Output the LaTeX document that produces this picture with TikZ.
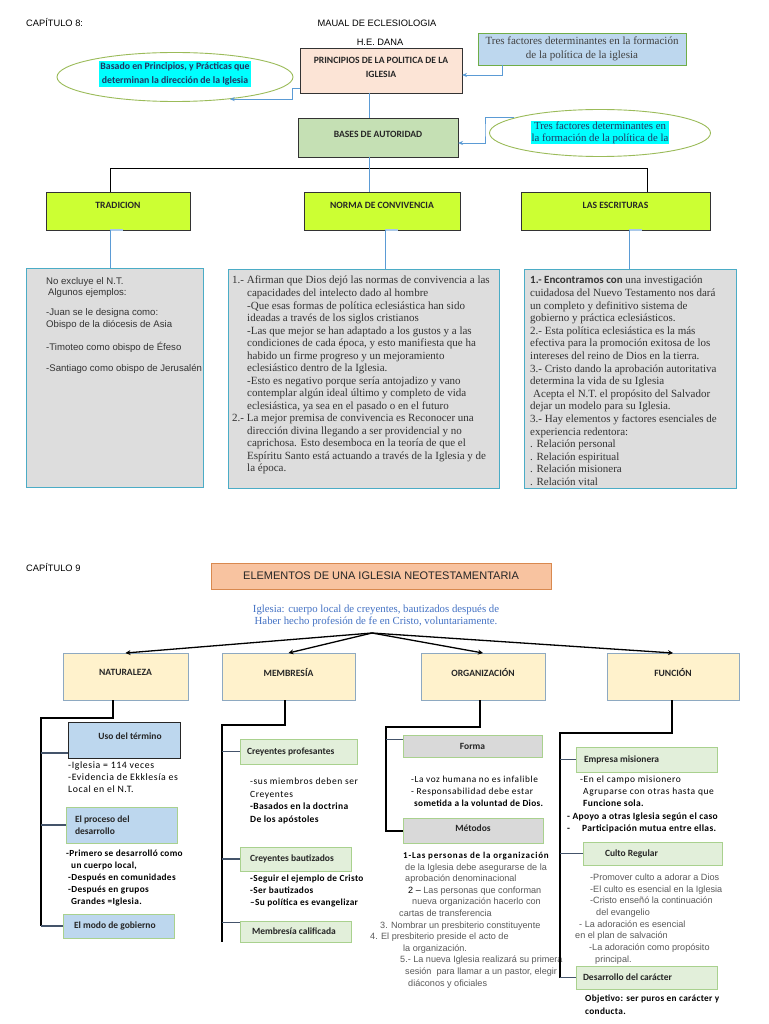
\documentclass[tikz,border=0pt]{standalone}
\usepackage{fontspec}
\setmainfont{Liberation Sans}
\newfontfamily\ars{Liberation Sans}
\newfontfamily\tms{Liberation Serif}
\newfontfamily\calf{Carlito}
\newfontfamily\calfs{Carlito}[LetterSpace=6]
\newfontfamily\calfb{Carlito}[LetterSpace=3.5]
\newfontfamily\calfw{Carlito}[LetterSpace=8.5]
\usetikzlibrary{arrows.meta,shapes.geometric}
\definecolor{limeg}{HTML}{CCFF33}
\definecolor{peach}{HTML}{FCE4D6}
\definecolor{basesg}{HTML}{C5E0B4}
\definecolor{ltblue}{HTML}{BDD7EE}
\definecolor{grnbd}{HTML}{70AD47}
\definecolor{elbd}{HTML}{9BBB59}
\definecolor{conblue}{HTML}{5B9BD5}
\definecolor{hiblue}{HTML}{A9C8E8}
\definecolor{grayf}{HTML}{DDDDDD}
\definecolor{graybd}{HTML}{4BACC6}
\definecolor{orf}{HTML}{F8C3A0}
\definecolor{orbd}{HTML}{D9894F}
\definecolor{txtblue}{HTML}{4472C4}
\definecolor{cream}{HTML}{FFF2CC}
\definecolor{creambd}{HTML}{8EA9C1}
\definecolor{navy}{HTML}{1F3864}
\definecolor{palegr}{HTML}{E2EFDA}
\definecolor{lgbd}{HTML}{A9D18E}
\definecolor{gray9}{HTML}{D9D9D9}
\definecolor{txtgray}{HTML}{595959}
\definecolor{brc}{HTML}{44546A}
\definecolor{hlc}{HTML}{00FFFF}
\tikzset{
  box/.style={draw, inner sep=0pt, outer sep=0pt, anchor=north west},
  sz/.style 2 args={minimum width=#1pt, minimum height=#2pt},
  lab/.style={font=\calf\bfseries\fontsize{9.6}{14}\selectfont, text=black!85},
  sub/.style={font=\calf\bfseries\fontsize{9.5}{12.5}\selectfont, text=black!85},
  txt/.style={anchor=north west, inner sep=0pt, align=left},
  conn/.style={draw=conblue, line width=0.9pt},
  carr/.style={conn, -{Stealth[length=5pt,width=4pt]}},
  arr9/.style={draw=black, line width=1.3pt, -{Stealth[length=5pt,width=5pt]}},
  tree/.style={draw=black, line width=1.2pt},
  br/.style={draw=brc, line width=1.2pt},
  hiseg/.style={draw=hiblue, line width=2pt},
}
\begin{document}
\begin{tikzpicture}[x=1pt,y=-1pt]
\fill[white] (0,0) rectangle (768,1024);
\useasboundingbox (0,0) rectangle (768,1024);

% ---------- Chapter 8 ----------
\node[anchor=west, inner sep=0pt, font=\ars\fontsize{9.3}{12}\selectfont] (cap8) at (26,23) {CAPÍTULO 8:};
\node[font=\ars\fontsize{9.3}{12}\selectfont] (maual) at (377,23) {MAUAL DE ECLESIOLOGIA};
\node[font=\ars\fontsize{9.3}{12}\selectfont] (dana) at (380,42) {H.E. DANA};

\node[box, sz={162}{45}, fill=peach, draw=black!80, line width=0.8pt, lab, align=center, text depth=7pt] (princ) at (300,48) {PRINCIPIOS DE LA POLITICA DE LA\\IGLESIA};

\node[ellipse, draw=elbd, line width=0.9pt, minimum width=236pt, minimum height=49pt, inner sep=0pt] (ell1) at (175,77) {};
\node[fill=hlc, inner sep=1pt, font=\calf\bfseries\fontsize{9.8}{14.5}\selectfont, text=navy, align=center] (ell1t) at (175,74) {Basado en Principios, y Prácticas que\\determinan la dirección de la Iglesia};

\node[box, sz={208}{32}, fill=ltblue, draw=grnbd, line width=0.8pt, font=\tms\fontsize{11}{13.5}\selectfont, text=black!75, align=center] (tres) at (478,33) {Tres factores determinantes en la formación\\de la política de la iglesia};

\node[box, sz={160}{39}, fill=basesg, draw=black!80, line width=0.8pt, lab, text depth=7pt] (bases) at (298,118) {BASES DE AUTORIDAD};

\node[ellipse, draw=elbd, line width=0.9pt, minimum width=221pt, minimum height=47pt, inner sep=0pt] (ell2) at (600,133) {};
\node[fill=hlc, inner sep=0.5pt, font=\tms\fontsize{10.8}{12}\selectfont, text=navy, align=center] (ell2t) at (600,132.5) {Tres factores determinantes en\\la formación de la política de la};

\node[box, sz={144}{38}, fill=limeg, draw=black!80, line width=0.9pt, lab, text depth=12pt] (trad) at (46,192) {TRADICION};
\node[box, sz={156}{38}, fill=limeg, draw=black!80, line width=0.9pt, lab, text depth=12pt] (norma) at (304,192) {NORMA DE CONVIVENCIA};
\node[box, sz={189}{38}, fill=limeg, draw=black!80, line width=0.9pt, lab, text depth=12pt] (escr) at (521,192) {LAS ESCRITURAS};

\node[box, sz={177}{219}, fill=grayf, draw=graybd, line width=0.9pt] (g1) at (26,268) {};
\node[box, sz={271}{219}, fill=grayf, draw=graybd, line width=0.9pt] (g2) at (228,269) {};
\node[box, sz={212}{219}, fill=grayf, draw=graybd, line width=0.9pt] (g3) at (524,269) {};

\node[txt, font=\ars\fontsize{9.6}{11.5}\selectfont, text=black!80] (g1t) at (46,277) {No excluye el N.T.\\\hspace*{2pt}Algunos ejemplos:\\[8.5pt]-Juan se le designa como:\\Obispo de la diócesis de Asia\\[11.5pt]-Timoteo como obispo de Éfeso\\[9.5pt]-Santiago como obispo de Jerusalén};

\node[txt, font=\tms\fontsize{11}{12.53}\selectfont, text=black!80] (g2t) at (232,276) {1.- Afirman que Dios dejó las normas de convivencia a las\\
\hspace*{15pt}capacidades del intelecto dado al hombre\\
\hspace*{15pt}-Que esas formas de política eclesiástica han sido\\
\hspace*{15pt}ideadas a través de los siglos cristianos\\
\hspace*{15pt}-Las que mejor se han adaptado a los gustos y a las\\
\hspace*{15pt}condiciones de cada época, y esto manifiesta que ha\\
\hspace*{15pt}habido un firme progreso y un mejoramiento\\
\hspace*{15pt}eclesiástico dentro de la Iglesia.\\
\hspace*{15pt}-Esto es negativo porque sería antojadizo y vano\\
\hspace*{15pt}contemplar algún ideal último y completo de vida\\
\hspace*{15pt}eclesiástica, ya sea en el pasado o en el futuro\\
2.- La mejor premisa de convivencia es Reconocer una\\
\hspace*{15pt}dirección divina llegando a ser providencial y no\\
\hspace*{15pt}caprichosa. Esto desemboca en la teoría de que el\\
\hspace*{15pt}Espíritu Santo está actuando a través de la Iglesia y de\\
\hspace*{15pt}la época.};

\node[txt, font=\tms\fontsize{11}{12.6}\selectfont, text=black!80] (g3t) at (530,276) {{\calf\bfseries 1.- Encontramos con} una investigación\\
cuidadosa del Nuevo Testamento nos dará\\
un completo y definitivo sistema de\\
gobierno y práctica eclesiásticos.\\
2.- Esta política eclesiástica es la más\\
efectiva para la promoción exitosa de los\\
intereses del reino de Dios en la tierra.\\
3.- Cristo dando la aprobación autoritativa\\
determina la vida de su Iglesia\\
\hspace*{3pt}Acepta el N.T. el propósito del Salvador\\
dejar un modelo para su Iglesia.\\
3.- Hay elementos y factores esenciales de\\
experiencia redentora:\\
. Relación personal\\
. Relación espiritual\\
. Relación misionera\\
. Relación vital};

% connectors chapter 8
\draw[carr] ([xshift=24pt]tres.south west) |- ([yshift=-4.5pt]princ.east);
\draw[carr] ([yshift=-17.5pt]princ.west) -- ++(-8,0) |- (ell1.-22);
\draw[conn] ([xshift=-12pt]princ.south) -- ([xshift=-12pt]princ.south |- bases.north);
\coordinate (e2k) at (485,130);
\draw[carr] (ell2.170) -| (e2k) |- ([yshift=-5.5pt]bases.east);
\coordinate (hl) at (0,168);
\draw[draw=black, line width=0.8pt] ([xshift=-8pt]trad.north) -- ([xshift=-8pt]trad.north |- hl) -- ([xshift=31.5pt]escr.north |- hl) -- ([xshift=31.5pt]escr.north);
\draw[conn] ([xshift=-9pt]bases.south) -- ([xshift=-9pt]bases.south |- norma.north);
\draw[hiseg] ([xshift=-8pt]trad.south) -- ([xshift=5pt]trad.south);
\draw[hiseg] ([xshift=3pt]norma.south) -- ([xshift=16pt]norma.south);
\draw[hiseg] ([xshift=13.5pt]escr.south) -- ([xshift=26.5pt]escr.south);
\draw[conn] ([xshift=-8pt]trad.south) -- ([xshift=-8pt]trad.south |- g1.north);
\draw[conn] ([xshift=3pt]norma.south) -- ([xshift=3pt]norma.south |- g2.north);
\draw[conn] ([xshift=13.5pt]escr.south) -- ([xshift=13.5pt]escr.south |- g3.north);

% ---------- Chapter 9 ----------
\node[anchor=west, inner sep=0pt, font=\ars\fontsize{9.3}{12}\selectfont] (cap9) at (26,568) {CAPÍTULO 9};
\node[box, sz={340}{26}, fill=orf, draw=orbd, line width=0.9pt, font=\ars\fontsize{11}{12}\selectfont, text=black!85] (elem) at (211,563) {ELEMENTOS DE UNA IGLESIA NEOTESTAMENTARIA};
\node[font=\tms\fontsize{10.8}{12.5}\selectfont, text=txtblue, align=center] (def) at (376,616) {Iglesia: cuerpo local de creyentes, bautizados después de\\Haber hecho profesión de fe en Cristo, voluntariamente.};
\coordinate (src) at (372,633);

\node[box, sz={125}{47}, fill=cream, draw=creambd, line width=0.9pt, lab, text depth=9pt] (nat) at (63,653) {NATURALEZA};
\node[box, sz={133}{47}, fill=cream, draw=creambd, line width=0.9pt, lab, text depth=9pt] (mem) at (222,653) {MEMBRESÍA};
\node[box, sz={124}{47}, fill=cream, draw=creambd, line width=0.9pt, lab, text depth=9pt] (org) at (421,653) {ORGANIZACIÓN};
\node[box, sz={132}{47}, fill=cream, draw=creambd, line width=0.9pt, lab, text depth=9pt] (fun) at (607,653) {FUNCIÓN};

\draw[arr9] (src) -- (nat.north);
\draw[arr9] (src) -- (mem.north);
\draw[arr9] (src) -- (org.north);
\draw[arr9] (src) -- (fun.north);

% Naturaleza
\node[box, sz={112}{36}, fill=ltblue, draw=black!85, line width=0.9pt, sub, text depth=8pt] (uso) at (68,722) {\hspace*{12pt}Uso del término};
\node[box, sz={111}{36}, fill=ltblue, draw=lgbd, line width=0.9pt, sub, align=left, inner xsep=9pt] (proc) at (66,807) {\makebox[93pt][l]{El proceso del}\\\makebox[93pt][l]{desarrollo}};
\node[box, sz={111}{24}, fill=ltblue, draw=lgbd, line width=0.9pt, sub, inner xsep=11pt] (modo) at (63,914) {\makebox[89pt][l]{El modo de gobierno}};
\node[txt, font=\calfs\fontsize{9.8}{12}\selectfont] (usot) at (68,761.5) {-Iglesia = 114 veces\\-Evidencia de Ekklesía es\\Local en el N.T.};
\node[txt, font=\calfb\bfseries\fontsize{9.3}{12}\selectfont] (proct) at (66,849.5) {-Primero se desarrolló como\\\hspace*{5pt}un cuerpo local,\\\hspace*{2pt}-Después en comunidades\\\hspace*{2pt}-Después en grupos\\\hspace*{5pt}Grandes =Iglesia.};
\coordinate (nk) at (41,718);
\draw[tree] ([xshift=-12.5pt]nat.south) |- (nk) -- (nk |- modo.west);
\coordinate (usob) at ([yshift=-13pt]uso.west);
\draw[br] (nk |- usob) -- (usob);
\draw[br] (nk |- proc.west) -- (proc.west);
\draw[br] (nk |- modo.west) -- (modo.west);

% Membresia
\node[box, sz={117}{25}, fill=palegr, draw=lgbd, line width=0.9pt, sub, inner xsep=7pt] (cp) at (240,739) {\makebox[103pt][l]{Creyentes profesantes}};
\node[box, sz={111}{24}, fill=palegr, draw=lgbd, line width=0.9pt, sub, inner xsep=10pt] (cb) at (240,847) {\makebox[91pt][l]{Creyentes bautizados}};
\node[box, sz={111}{21}, fill=palegr, draw=lgbd, line width=0.9pt, sub, inner xsep=12pt] (mc) at (240,921) {\makebox[87pt][l]{Membresía calificada}};
\node[txt, font=\calfs\fontsize{9.5}{12.7}\selectfont] (cpt) at (250,777.5) {-sus miembros deben ser\\Creyentes\\{\calfb\bfseries -Basados en la doctrina}\\{\calfb\bfseries De los apóstoles}};
\node[txt, font=\calfb\bfseries\fontsize{9.3}{12}\selectfont] (cbt) at (250,874.5) {-Seguir el ejemplo de Cristo\\-Ser bautizados\\–Su política es evangelizar};
\coordinate (mk) at (222,725);
\draw[tree] ([xshift=-3.5pt]mem.south) |- (mk) -- (mk |- mc.south);
\coordinate (mcb) at ([yshift=9pt]mc.west);
\draw[br] (mk |- cp.west) -- (cp.west);
\draw[br] (mk |- cb.west) -- (cb.west);
\draw[br] (mk |- mcb) -- (mcb);

% Organizacion
\node[box, sz={139}{22}, fill=gray9, draw=lgbd, line width=0.9pt, sub] (forma) at (403,735) {Forma};
\node[box, sz={140}{25}, fill=gray9, draw=lgbd, line width=0.9pt, sub, text depth=5pt] (met) at (403,818) {Métodos};
\node[txt, font=\calfs\fontsize{9.3}{12}\selectfont] (format) at (411,775.5) {-La voz humana no es infalible\\- Responsabilidad debe estar\\\hspace*{3pt}{\calfb\bfseries sometida a la voluntad de Dios.}};
\node[txt, font=\ars\fontsize{9.1}{11.6}\selectfont, text=txtgray] (mett) at (370,852) {\hspace*{33pt}{\calfw\bfseries\fontsize{9}{11.6}\selectfont\color{black}1-Las personas de la organización}\\
\hspace*{35pt}de la Iglesia debe asegurarse de la\\
\hspace*{35pt}aprobación denominacional\\
\hspace*{38pt}{\color{black}2 –} Las personas que conforman\\
\hspace*{42pt}nueva organización hacerlo con\\
\hspace*{29pt}cartas de transferencia\\
\hspace*{10pt}3. Nombrar un presbiterio constituyente\\
4. El presbiterio preside el acto de\\
\hspace*{33pt}la organización.\\
\hspace*{30pt}5.- La nueva Iglesia realizará su primera\\
\hspace*{35pt}sesión\ \ para llamar a un pastor, elegir\\
\hspace*{38pt}diáconos y oficiales};
\coordinate (ok) at (386,727);
\draw[tree, line width=2pt] ([xshift=-3.5pt]org.south) |- (ok) |- (met.west);
\coordinate (fb) at ([yshift=6.5pt]forma.west);
\draw[br] (ok |- fb) -- (fb);

% Funcion
\node[box, sz={141}{25}, fill=palegr, draw=lgbd, line width=0.9pt, sub, inner xsep=8pt] (emp) at (576,747) {\makebox[125pt][l]{Empresa misionera}};
\node[box, sz={139}{23}, fill=palegr, draw=lgbd, line width=0.9pt, sub, inner xsep=22pt] (cul) at (583,842) {\makebox[95pt][l]{Culto Regular}};
\node[box, sz={141}{23}, fill=palegr, draw=lgbd, line width=0.9pt, sub, inner xsep=7pt] (des) at (576,966) {\makebox[127pt][l]{Desarrollo del carácter}};
\node[txt, font=\calfs\fontsize{9.5}{12.25}\selectfont] (empt) at (567,775.5) {\hspace*{13pt}-En el campo misionero\\
\hspace*{16pt}Agruparse con otras hasta que\\
\hspace*{16pt}{\calfb\bfseries Funcione sola.}\\
{\calfb\bfseries - Apoyo a otras Iglesia según el caso}\\
{\calfb\bfseries -\hspace*{12pt}Participación mutua entre ellas.}};
\node[txt, font=\ars\fontsize{9.1}{11.7}\selectfont, text=txtgray] (cult) at (575,873.5) {\hspace*{15pt}-Promover culto a adorar a Dios\\
\hspace*{15pt}-El culto es esencial en la Iglesia\\
\hspace*{15pt}-Cristo enseñó la continuación\\
\hspace*{21pt}del evangelio\\
\hspace*{4pt}- La adoración es esencial\\
en el plan de salvación\\
\hspace*{14pt}-La adoración como propósito\\
\hspace*{20pt}principal.};
\node[txt, font=\calfb\bfseries\fontsize{9.3}{13}\selectfont] (dest) at (585,994.5) {Objetivo: ser puros en carácter y\\conducta.};
\coordinate (fk) at (560,733);
\draw[tree, line width=1.6pt] ([xshift=-1pt]fun.south) |- (fk) -- (fk |- des.west);
\draw[br] (fk |- emp.west) -- (emp.west);
\draw[br] (fk |- cul.west) -- (cul.west);
\draw[br] (fk |- des.west) -- (des.west);
\end{tikzpicture}
\end{document}
